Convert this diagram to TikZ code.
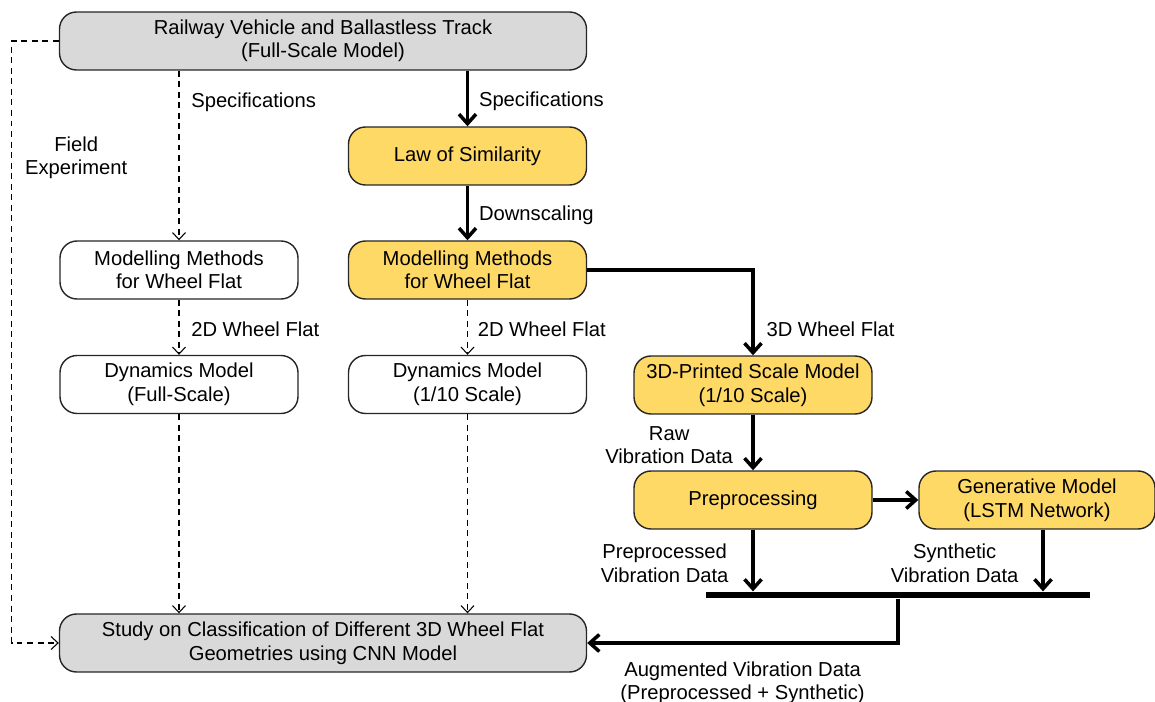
\documentclass[tikz,border=0pt]{standalone}
\usepackage{fontspec}
\setmainfont{Liberation Sans}
\usepackage{tikz}
\usetikzlibrary{arrows.meta}

\definecolor{boxgray}{HTML}{D9D9D9}
\definecolor{boxgold}{HTML}{FFD966}
\definecolor{boxline}{HTML}{262626}

\begin{document}
\begin{tikzpicture}[font=\fontsize{11.5}{13.4}\selectfont,
    bnode/.style={draw=boxline,line width=0.8pt,rounded corners=0.34cm,align=center,minimum width=4.76cm,minimum height=1.16cm,inner sep=2pt},
    gnode/.style={bnode,fill=boxgray,minimum width=10.54cm},
    ynode/.style={bnode,fill=boxgold},
    wnode/.style={bnode,fill=white},
    sarrow/.style={line width=2pt,-{Straight Barb[length=1.9mm,width=3.4mm]}},
    darrow/.style={line width=0.6pt,dash pattern=on 3.4pt off 2.6pt,-{Straight Barb[length=1.4mm,width=2.6mm]}},
    lbl/.style={align=center,inner sep=1pt,yshift=-0.05cm}]
    \useasboundingbox (0,0) rectangle (23.1,-14.04);

    \node[gnode] (0) at (6.46,-0.82) {Railway Vehicle and Ballastless Track\\(Full-Scale Model)};
    \node[ynode] (1) at (9.35,-3.12) {Law of Similarity};
    \node[wnode] (2) at (3.58,-5.40) {Modelling Methods\\for Wheel Flat};
    \node[ynode] (3) at (9.35,-5.40) {Modelling Methods\\for Wheel Flat};
    \node[wnode] (4) at (3.58,-7.69) {Dynamics Model\\(Full-Scale)};
    \node[wnode] (5) at (9.35,-7.69) {Dynamics Model\\(1/10 Scale)};
    \node[ynode] (6) at (15.06,-7.70) {3D-Printed Scale Model\\(1/10 Scale)};
    \node[ynode] (7) at (15.06,-10.00) {Preprocessing};
    \node[ynode,minimum width=4.72cm] (8) at (20.74,-10.00) {Generative Model\\(LSTM Network)};
    \node[fill=black,minimum width=7.68cm,minimum height=0.13cm,inner sep=0pt] (9) at (17.96,-11.90) {};
    \node[gnode] (10) at (6.46,-12.86) {Study on Classification of Different 3D Wheel Flat\\Geometries using CNN Model};

    \draw[darrow] (2 |- 0.south) -- node[lbl, pos=0.17, right=2mm] {Specifications} (2);
    \draw[sarrow] (1 |- 0.south) -- node[lbl, pos=0.5, right=1.6mm] {Specifications} (1);
    \draw[sarrow] (1) -- node[lbl, pos=0.5, right=1.6mm] {Downscaling} (3);
    \draw[darrow] (2) -- node[lbl, pos=0.5, right=2mm] {2D Wheel Flat} (4);
    \draw[darrow] (3) -- node[lbl, pos=0.5, right=1.6mm] {2D Wheel Flat} (5);
    \draw[sarrow] (3) -| node[lbl, pos=0.835, right=2mm] {3D Wheel Flat} (6);
    \draw[sarrow] (6) -- node[lbl, pos=0.5, left=3.3mm] {Raw\\Vibration Data} (7);
    \draw[sarrow] (7) -- (8);
    \draw[sarrow] (7) -- node[lbl, pos=0.5, left=4.2mm] {Preprocessed\\Vibration Data} (7 |- 9.north);
    \draw[sarrow] ([xshift=0.12cm]8.south) -- node[lbl, pos=0.5, left=4.2mm] {Synthetic\\Vibration Data} ([xshift=0.12cm]8.south |- 9.north);
    \draw[sarrow] (9.south) |- node[lbl, pos=0.75, below=2.5mm] {Augmented Vibration Data\\(Preprocessed + Synthetic)} (10);
    \draw[darrow] (4) -- (4 |- 10.north);
    \draw[darrow] (5) -- (5 |- 10.north);
    \draw[darrow] (0.west) -- ++(-0.94,0) |- node[lbl, pos=0.095, right=2.2mm] {Field\\Experiment} (10.west);
\end{tikzpicture}
\end{document}
